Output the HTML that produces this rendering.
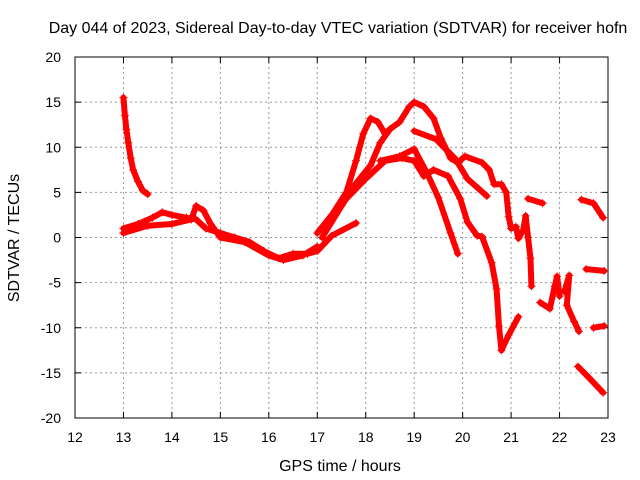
<!DOCTYPE html>
<html><head><meta charset="utf-8"><style>
body{margin:0;background:#fff}
svg{display:block;font-family:"Liberation Sans",sans-serif}
</style></head><body>
<svg id="chart" width="640" height="480" viewBox="0 0 640 480">
<text x="338" y="33" text-anchor="middle" font-size="16">Day 044 of 2023, Sidereal Day-to-day VTEC variation (SDTVAR) for receiver hofn</text>
<text x="340" y="471" text-anchor="middle" font-size="16">GPS time / hours</text>
<text transform="translate(19,238) rotate(-90)" text-anchor="middle" font-size="16">SDTVAR / TECUs</text>
<g id="grid"></g>
<g id="ticks"></g>
<g id="marks"></g>
<rect x="75" y="57" width="533" height="361" fill="none" stroke="#000" stroke-width="1"/>
</svg>
<script>
const xTicks=[12,13,14,15,16,17,18,19,20,21,22,23];
const yTicks=[-20,-15,-10,-5,0,5,10,15,20];
// tracks: [hours, value] samples
const trackDecay=[[13.0,15.5],[13.03,13.5],[13.06,12],[13.1,10.5],[13.15,8.8],[13.2,7.5],[13.3,6.2],[13.4,5.2],[13.5,4.8]];
const trackLowA=[[13.0,1],[13.3,1.5],[13.6,2.2],[13.8,2.8],[14.0,2.5],[14.3,2.2],[14.5,2],[14.7,1],[15.0,0.5],[15.3,0],[15.6,-0.5],[15.9,-1.5],[16.2,-2.3],[16.5,-1.8],[16.8,-1.8],[17.0,-1.5],[17.3,0.2],[17.8,1.6]];
const trackLowB=[[13.0,0.5],[13.5,1.3],[14.0,1.5],[14.4,2],[14.5,3.5],[14.65,3],[14.8,1.5],[15.0,0],[15.5,-0.5],[16.0,-2],[16.3,-2.5],[16.7,-2],[17.0,-1]];
const trackPeak13=[[17.0,0.5],[17.3,2.5],[17.6,5],[17.8,8.5],[17.95,11.5],[18.1,13.2],[18.25,12.8],[18.4,11.5],[18.5,12]];
const trackPeak15=[[17.1,0],[17.5,3.5],[17.8,6],[18.1,8],[18.3,10.5],[18.5,12],[18.7,12.8],[18.9,14.5],[19.0,15],[19.2,14.5],[19.4,13.2],[19.55,11],[19.75,8.8],[19.9,8.3],[20.05,9],[20.4,8.3],[20.55,7.5],[20.65,5.9],[20.8,5.9],[20.9,5],[20.95,2.3],[21.0,1],[21.1,1.2],[21.15,-0.1],[21.25,0.8],[21.3,2.4],[21.35,0],[21.4,-2.3],[21.42,-5.4]];
const trackPeak12=[[19.0,11.8],[19.45,10.9],[19.85,8.7],[20.1,6.5],[20.5,4.6]];
const trackPeak10=[[18.3,8.5],[18.7,9],[19.0,9.8],[19.25,7.3],[19.5,4.4],[19.75,0.5],[19.9,-1.8]];
const trackPeak9=[[17.6,4.3],[18.0,6.5],[18.4,8.5],[18.75,8.8],[19.0,8.5],[19.2,6.8],[19.4,7.5],[19.7,6.8],[19.95,4.3],[20.1,1.7],[20.3,0.2],[20.4,0.1],[20.6,-2.8],[20.7,-5.7],[20.75,-9.8],[20.8,-12.5],[20.95,-10.8],[21.15,-8.8]];
const trackSeg4=[[21.35,4.3],[21.65,3.8]];
const trackSegLate4=[[22.45,4.2],[22.7,3.8],[22.9,2.2]];
const trackSegM35=[[22.55,-3.5],[22.92,-3.7]];
const trackSegM10=[[22.7,-10],[22.92,-9.8]];
const trackSegM15=[[22.38,-14.3],[22.6,-15.5],[22.9,-17.2]];
const trackClusterA=[[21.6,-7.2],[21.8,-7.9],[21.9,-5.4],[21.95,-4.3],[22.0,-6.5]];
const trackClusterB=[[22.1,-6],[22.2,-4.2],[22.15,-7.5],[22.3,-9.3],[22.4,-10.4]];
const tracks=[trackDecay,trackLowA,trackLowB,trackPeak13,trackPeak15,trackPeak12,trackPeak10,trackPeak9,trackSeg4,trackSegLate4,trackSegM35,trackSegM10,trackSegM15,trackClusterA,trackClusterB];

const X0=75,X1=608,Y0=418,Y1=57;
const sx=t=>X0+(t-12)/11*(X1-X0);
const sy=v=>Y0-(v+20)/40*(Y0-Y1);
const NS="http://www.w3.org/2000/svg";
const grid=document.getElementById('grid'),ticks=document.getElementById('ticks'),marks=document.getElementById('marks');
function mk(tag,attrs,parent){const e=document.createElementNS(NS,tag);for(const k in attrs)e.setAttribute(k,attrs[k]);parent.appendChild(e);return e;}
xTicks.forEach(t=>{
  const x=sx(t);
  if(t>12&&t<23){const g=mk('line',{x1:x,x2:x,y1:Y1,y2:Y0,stroke:'#999','stroke-dasharray':'2,3'},grid);
  
  }
  mk('line',{x1:x,x2:x,y1:Y0,y2:Y0-6,stroke:'#000'},ticks);
  mk('line',{x1:x,x2:x,y1:Y1,y2:Y1+6,stroke:'#000'},ticks);
  const l=mk('text',{x:x,y:442,'text-anchor':'middle','font-size':14},ticks);
  l.textContent=t;
  
  
});
yTicks.forEach(v=>{
  const y=sy(v);
  if(v>-20&&v<20){const g=mk('line',{x1:X0,x2:X1,y1:y,y2:y,stroke:'#999','stroke-dasharray':'2,3'},grid);
  
  }
  mk('line',{x1:X0,x2:X0+6,y1:y,y2:y,stroke:'#000'},ticks);
  mk('line',{x1:X1,x2:X1-6,y1:y,y2:y,stroke:'#000'},ticks);
  const l=mk('text',{x:61,y:y+5,'text-anchor':'end','font-size':14},ticks);
  l.textContent=v;
  
  
});
tracks.forEach(tr=>{
  const pl=mk('polyline',{points:tr.map(p=>sx(p[0])+','+sy(p[1])).join(' '),fill:'none',stroke:'#f00','stroke-width':6,'stroke-linejoin':'round','stroke-linecap':'round'},marks);
  
  
  tr.forEach(p=>{
    const x=sx(p[0]),y=sy(p[1]);
    const m=mk('path',{d:`M${x-4},${y}H${x+4}M${x},${y-4}V${y+4}`,stroke:'#f00','stroke-width':1},marks);
    
    
  });
});
</script>
</body></html>
